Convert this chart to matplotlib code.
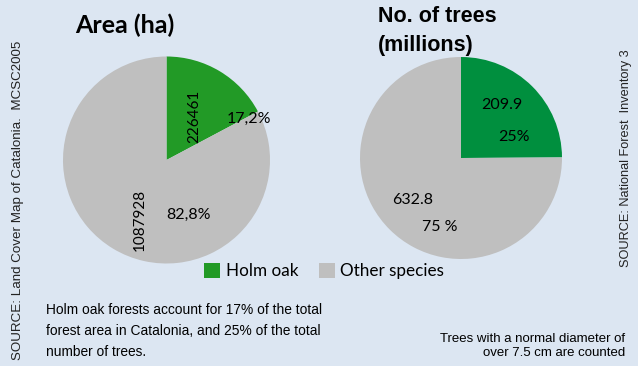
import matplotlib
matplotlib.use("Agg")
import matplotlib.pyplot as plt
from matplotlib.patches import Patch

# data
categories = ["Holm oak", "Other species"]
area_ha = [226461, 1087928]
area_pct = ["17,2%", "82,8%"]
trees_m = [209.9, 632.8]
trees_pct = ["25%", "75 %"]

BG = "#DCE6F2"
GREEN_L = "#229A26"
GREEN_R = "#008F3E"
GREY = "#BFBFBF"
W, H = 638, 366
NARROW = ["Liberation Sans", "DejaVu Sans"]
CAL = ["Lato", "DejaVu Sans"]

fig = plt.figure(figsize=(W / 100, H / 100), dpi=100, facecolor=BG)


def pie_axes(cx, cy, r):
    ax = fig.add_axes([(cx - r) / W, (H - cy - r) / H, 2 * r / W, 2 * r / H])
    return ax


def finish(ax):
    ax.set_xlim(-1, 1)
    ax.set_ylim(-1, 1)
    ax.set_aspect("auto")
    ax.axis("off")


# left pie: area
ax1 = pie_axes(166.5, 160, 103.5)
ax1.pie(area_ha, colors=[GREEN_L, GREY], startangle=90, counterclock=False, radius=1)
finish(ax1)
ax1.text(0.27, 0.42, str(area_ha[0]), rotation=90, ha="center", va="center",
         fontsize=11, family=CAL)
ax1.text(0.80, 0.40, area_pct[0], ha="center", va="center", fontsize=11.5, family=CAL)
ax1.text(-0.26, -0.58, str(area_ha[1]), rotation=90, ha="center", va="center",
         fontsize=11, family=CAL)
ax1.text(0.21, -0.53, area_pct[1], ha="center", va="center", fontsize=11.5, family=CAL)

# right pie: number of trees
ax2 = pie_axes(461, 158, 101)
ax2.pie(trees_m, colors=[GREEN_R, GREY], startangle=90, counterclock=False, radius=1)
finish(ax2)
ax2.text(0.40, 0.52, f"{trees_m[0]:.1f}", ha="center", va="center", fontsize=11.5, family=CAL)
ax2.text(0.52, 0.21, trees_pct[0], ha="center", va="center", fontsize=11.5, family=CAL)
ax2.text(-0.48, -0.42, f"{trees_m[1]:.1f}", ha="center", va="center", fontsize=11.5, family=CAL)
ax2.text(-0.21, -0.68, trees_pct[1], ha="center", va="center", fontsize=11.5, family=CAL)

# titles
fig.text(125 / W, 1 - 25 / H, "Area (ha)", ha="center", va="center",
         fontsize=18, fontweight="bold", family=CAL)
fig.text(378 / W, 1 - 17 / H, "No. of trees", ha="left", va="center",
         fontsize=15.5, fontweight="bold", family=NARROW)
fig.text(378 / W, 1 - 46 / H, "(millions)", ha="left", va="center",
         fontsize=15.5, fontweight="bold", family=NARROW)

# legend
handles = [Patch(facecolor=GREEN_L, edgecolor="none"), Patch(facecolor=GREY, edgecolor="none")]
fig.legend(handles, categories, loc="center", bbox_to_anchor=(324 / W, 1 - 271 / H),
           ncol=2, frameon=False, prop={"family": CAL, "size": 12.3},
           handlelength=0.95, handleheight=0.95, handletextpad=0.3, columnspacing=1.2)

# sources
fig.text(18 / W, 1 - 200 / H, "SOURCE: Land Cover Map of Catalonia.  MCSC2005",
         rotation=90, ha="center", va="center", fontsize=9.6, family=NARROW, color="#222222")
fig.text(626 / W, 1 - 158 / H, "SOURCE: National Forest  Inventory 3",
         rotation=90, ha="center", va="center", fontsize=9.2, family=NARROW, color="#222222")

# notes
fig.text(46 / W, 1 - 331 / H,
         "Holm oak forests account for 17% of the total\n"
         "forest area in Catalonia, and 25% of the total\n"
         "number of trees.",
         ha="left", va="center", fontsize=9.9, family=NARROW, linespacing=1.6)
fig.text(625 / W, 1 - 346 / H,
         "Trees with a normal diameter of\nover 7.5 cm are counted",
         ha="right", va="center", fontsize=9.5, family=NARROW, linespacing=1.3)

fig.savefig("out.png", dpi=100, facecolor=BG)
